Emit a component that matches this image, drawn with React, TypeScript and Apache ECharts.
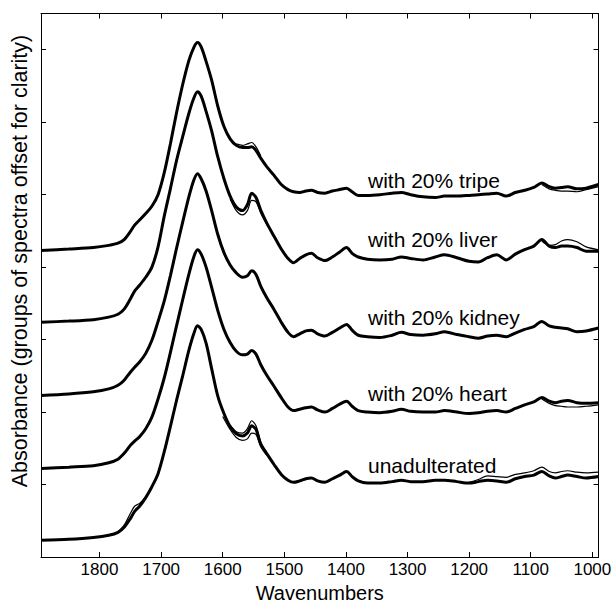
import React, { useEffect, useRef } from "react";
import * as echarts from "echarts";

// Wavenumber sample positions (cm-1), shared by every spectrum
const WAVENUMBERS = [
  1895, 1850, 1810, 1785, 1770, 1760, 1750, 1743, 1735, 1725, 1715, 1705, 1695, 1685, 1675, 1665, 1655, 1647,
  1641, 1635, 1627, 1618, 1608, 1598, 1588, 1578, 1568, 1560, 1553, 1546, 1538, 1528, 1517, 1505, 1494, 1485,
  1475, 1465, 1456, 1446, 1434, 1422, 1410, 1399, 1390, 1380, 1365, 1345, 1325, 1310, 1295, 1275, 1255, 1240,
  1220, 1200, 1185, 1170, 1155, 1140, 1125, 1110, 1095, 1082, 1070, 1060, 1050, 1040, 1025, 1010, 990,
];

// Absorbance of each group before the display offset
const UNADULTERATED = [
  0.23, 0.245, 0.27, 0.3, 0.34, 0.41, 0.53, 0.63, 0.7, 0.82, 0.97, 1.15, 1.45, 1.8, 2.16, 2.5, 2.85, 3.08,
  3.19, 3.14, 2.95, 2.6, 2.22, 1.98, 1.8, 1.7, 1.67, 1.71, 1.81, 1.76, 1.55, 1.42, 1.28, 1.14, 1.06, 1.03,
  1.05, 1.08, 1.09, 1.05, 1.03, 1.08, 1.13, 1.18, 1.11, 1.05, 1.02, 1.02, 1.04, 1.06, 1.04, 1.04, 1.06, 1.06,
  1.04, 1.02, 1.04, 1.06, 1.05, 1.03, 1.08, 1.11, 1.13, 1.18, 1.12, 1.09, 1.11, 1.13, 1.11, 1.09, 1.11,
];
const HEART = [
  0.22, 0.24, 0.26, 0.3, 0.35, 0.43, 0.54, 0.6, 0.66, 0.77, 0.93, 1.18, 1.47, 1.82, 2.19, 2.55, 2.9, 3.14,
  3.24, 3.18, 3.0, 2.72, 2.4, 2.14, 1.96, 1.84, 1.79, 1.8, 1.85, 1.8, 1.65, 1.5, 1.36, 1.2, 1.07, 1.02,
  1.04, 1.06, 1.07, 1.03, 1.0, 1.05, 1.11, 1.15, 1.08, 1.02, 1.0, 0.99, 1.01, 1.04, 1.01, 1.0, 1.0, 1.02,
  1.0, 0.98, 0.99, 1.01, 1.02, 1.0, 1.05, 1.1, 1.14, 1.2, 1.15, 1.13, 1.15, 1.16, 1.13, 1.12, 1.13,
];
const KIDNEY = [
  0.23, 0.25, 0.28, 0.32, 0.37, 0.44, 0.55, 0.62, 0.69, 0.81, 0.99, 1.25, 1.53, 1.88, 2.26, 2.62, 2.97, 3.2,
  3.29, 3.22, 3.05, 2.78, 2.45, 2.2, 2.03, 1.92, 1.86, 1.88, 1.95, 1.9, 1.73, 1.57, 1.42, 1.24, 1.1, 1.04,
  1.08, 1.12, 1.13, 1.08, 1.05, 1.1, 1.16, 1.21, 1.13, 1.06, 1.04, 1.03, 1.06, 1.1, 1.07, 1.06, 1.08, 1.11,
  1.07, 1.04, 1.02, 1.05, 1.06, 1.04, 1.09, 1.14, 1.18, 1.25, 1.19, 1.17, 1.16, 1.15, 1.11, 1.12, 1.16,
];
const LIVER = [
  0.24, 0.255, 0.275, 0.31, 0.35, 0.42, 0.56, 0.67, 0.75, 0.86, 1.0, 1.28, 1.7, 2.08, 2.47, 2.8, 3.12, 3.33,
  3.42, 3.36, 3.15, 2.88, 2.52, 2.22, 1.98, 1.83, 1.78, 1.86, 2.02, 1.96, 1.78, 1.6, 1.43, 1.25, 1.12, 1.06,
  1.12, 1.17, 1.19, 1.13, 1.09, 1.14, 1.21, 1.27, 1.19, 1.14, 1.11, 1.1, 1.11, 1.14, 1.12, 1.1, 1.14, 1.17,
  1.13, 1.08, 1.07, 1.13, 1.17, 1.1, 1.18, 1.24, 1.29, 1.38, 1.29, 1.27, 1.29, 1.29, 1.27, 1.22, 1.22,
];
const TRIPE = [
  0.23, 0.25, 0.27, 0.3, 0.33, 0.38, 0.49, 0.58, 0.65, 0.74, 0.84, 1.0, 1.3, 1.7, 2.13, 2.52, 2.85, 3.03,
  3.1, 3.04, 2.84, 2.58, 2.22, 1.94, 1.77, 1.68, 1.65, 1.65, 1.66, 1.61, 1.5, 1.38, 1.27, 1.14, 1.07, 1.04,
  1.03, 1.05, 1.06, 1.03, 1.02, 1.05, 1.07, 1.09, 1.04, 0.99, 0.99, 1.0, 1.02, 1.03, 1.0, 0.97, 0.96, 0.98,
  0.98, 0.99, 1.0, 1.01, 1.02, 0.98, 1.03, 1.06, 1.1, 1.16, 1.11, 1.09, 1.1, 1.11, 1.08, 1.09, 1.14,
];

// Individual replicate spectra that leave the bundle in places: [wavenumber, absorbance]
const UNADULTERATED_HIGH_TAIL = [
  [1200, 1.03], [1185, 1.07], [1170, 1.12], [1155, 1.11], [1140, 1.1], [1125, 1.14], [1110, 1.16],
  [1095, 1.19], [1082, 1.24], [1070, 1.18], [1060, 1.16], [1050, 1.18], [1040, 1.19], [1025, 1.17],
  [1010, 1.16], [990, 1.17],
];
const UNADULTERATED_LOW_AMIDE = [
  [1600, 1.94], [1588, 1.76], [1578, 1.65], [1568, 1.61], [1560, 1.63], [1553, 1.71], [1546, 1.69],
  [1538, 1.52], [1528, 1.4],
];
const UNADULTERATED_HIGH_AMIDE = [
  [1588, 1.82], [1578, 1.73], [1568, 1.71], [1560, 1.77], [1553, 1.88], [1546, 1.81], [1538, 1.58], [1528, 1.44],
];
const UNADULTERATED_ESTER = [
  [1770, 0.35], [1760, 0.44], [1750, 0.6], [1743, 0.7], [1735, 0.74], [1725, 0.83], [1715, 0.97],
];
const HEART_LOW_TAIL = [
  [1082, 1.18], [1070, 1.12], [1060, 1.09], [1050, 1.08], [1040, 1.07], [1025, 1.07], [1010, 1.08], [990, 1.1],
];
const LIVER_HIGH_TAIL = [
  [1082, 1.36], [1070, 1.3], [1060, 1.31], [1050, 1.36], [1040, 1.38], [1025, 1.35], [1010, 1.28], [990, 1.24],
];
const LIVER_LOW_AMIDE = [
  [1588, 1.94], [1578, 1.78], [1568, 1.72], [1560, 1.78], [1553, 1.92], [1546, 1.9], [1538, 1.74], [1528, 1.58],
];
const TRIPE_LOW_TAIL = [
  [1082, 1.14], [1070, 1.08], [1060, 1.06], [1050, 1.05], [1040, 1.05], [1025, 1.04], [1010, 1.07], [990, 1.11],
];
const TRIPE_HIGH_AMIDE = [
  [1578, 1.7], [1568, 1.68], [1560, 1.7], [1553, 1.72], [1546, 1.66], [1538, 1.53],
];

const GROUP_LABELS = ["unadulterated", "with 20% heart", "with 20% kidney", "with 20% liver", "with 20% tripe"];
const GROUP_SPECTRA = [UNADULTERATED, HEART, KIDNEY, LIVER, TRIPE];
const GROUP_OFFSETS = [0, 1, 2, 3, 4];
const REPLICATES: [number, number[][]][] = [
  [0, UNADULTERATED_HIGH_TAIL],
  [0, UNADULTERATED_LOW_AMIDE],
  [0, UNADULTERATED_HIGH_AMIDE],
  [0, UNADULTERATED_ESTER],
  [1, HEART_LOW_TAIL],
  [3, LIVER_HIGH_TAIL],
  [3, LIVER_LOW_AMIDE],
  [4, TRIPE_LOW_TAIL],
  [4, TRIPE_HIGH_AMIDE],
];

const X_TICKS = [1800, 1700, 1600, 1500, 1400, 1300, 1200, 1100, 1000];
const Y_TICKS = [0, 1, 2, 3, 4, 5, 6, 7];

const FONT = "'Liberation Sans', Arial, Helvetica, sans-serif";

export default function App() {
  const ref = useRef<HTMLDivElement>(null);

  useEffect(() => {
    if (!ref.current) return;
    const chart = echarts.init(ref.current, undefined, { renderer: "svg" });

    const series: any[] = [];
    GROUP_SPECTRA.forEach((values, g) => {
      series.push({
        type: "line",
        name: GROUP_LABELS[g],
        data: WAVENUMBERS.map((w, i) => [w, values[i] + GROUP_OFFSETS[g]]),
        showSymbol: false,
        symbol: "none",
        smooth: 0.3,
        lineStyle: { color: "#000", width: 3 },
        z: 3,
      });
    });
    REPLICATES.forEach(([g, pts]) => {
      series.push({
        type: "line",
        data: pts.map(([w, v]) => [w, v + GROUP_OFFSETS[g]]),
        showSymbol: false,
        symbol: "none",
        smooth: 0.3,
        lineStyle: { color: "#000", width: 1.2 },
        z: 3,
      });
    });

    const axisLine = { show: true, onZero: false, lineStyle: { color: "#000", width: 1 } };
    const tick = { show: true, inside: true, length: 5, lineStyle: { color: "#000", width: 1 } };

    chart.setOption({
      animation: false,
      backgroundColor: "#fff",
      grid: {
        left: 41,
        right: 13.5,
        top: 13.5,
        bottom: 47,
        containLabel: false,
        outerBoundsMode: "none",
      },
      xAxis: [
        {
          type: "value",
          min: 990,
          max: 1895,
          inverse: true,
          position: "bottom",
          axisLine,
          axisTick: { ...tick, customValues: X_TICKS },
          axisLabel: {
            customValues: X_TICKS,
            formatter: (v: number) => String(v),
            color: "#000",
            fontSize: 17,
            fontFamily: FONT,
            margin: 4,
          },
          splitLine: { show: false },
          name: "Wavenumbers",
          nameLocation: "middle",
          nameGap: 26,
          nameTextStyle: { color: "#000", fontSize: 20, fontFamily: FONT },
        },
        {
          type: "value",
          min: 990,
          max: 1895,
          inverse: true,
          position: "top",
          axisLine,
          axisTick: { ...tick, customValues: X_TICKS },
          axisLabel: { show: false },
          splitLine: { show: false },
        },
      ],
      yAxis: [
        {
          type: "value",
          min: 0,
          max: 7.5,
          position: "left",
          axisLine,
          axisTick: { ...tick, customValues: Y_TICKS },
          axisLabel: { show: false },
          splitLine: { show: false },
        },
        {
          type: "value",
          min: 0,
          max: 7.5,
          position: "right",
          axisLine,
          axisTick: { ...tick, customValues: Y_TICKS },
          axisLabel: { show: false },
          splitLine: { show: false },
        },
      ],
      graphic: [
        {
          type: "text",
          x: 20,
          y: 261,
          rotation: Math.PI / 2,
          style: {
            text: "Absorbance (groups of spectra offset for clarity)",
            fill: "#000",
            font: `21.5px ${FONT}`,
            align: "center",
            verticalAlign: "middle",
          },
        },
        ...[465, 393, 317, 239, 180].map((y, i) => ({
          type: "text",
          x: 368,
          y,
          style: {
            text: GROUP_LABELS[i],
            fill: "#000",
            font: `21px ${FONT}`,
            align: "left",
            verticalAlign: "middle",
          },
          z: 10,
        })),
      ],
      series,
    });

    return () => chart.dispose();
  }, []);

  return (
    <div
      ref={ref}
      style={{ position: "absolute", left: 0, top: 0, width: 612, height: 604 }}
    />
  );
}
